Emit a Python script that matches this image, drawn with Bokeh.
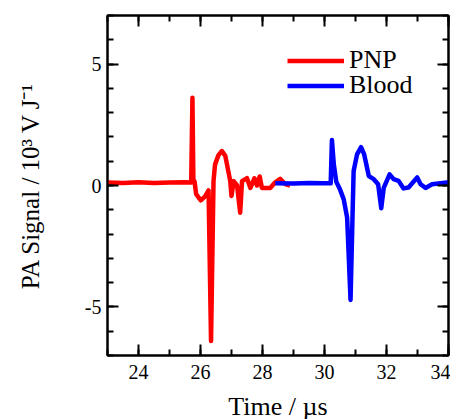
from bokeh.plotting import figure
from bokeh.models import (LinearAxis, SingleIntervalTicker, Range1d, Legend, LegendItem)
from bokeh.embed import file_html
from bokeh.resources import INLINE

# ---- data ----
pnp_time = [23.0, 23.5, 24.0, 24.5, 25.0, 25.5, 25.70, 25.74, 25.77, 25.81, 25.86, 26.01,
            26.15, 26.26, 26.34, 26.42, 26.47, 26.58, 26.69, 26.80, 26.96, 27.00, 27.07,
            27.18, 27.28, 27.34, 27.50, 27.61, 27.74, 27.82, 27.91, 27.98, 28.25, 28.41,
            28.57, 28.73, 28.89]
pnp_signal = [0.12, 0.10, 0.13, 0.10, 0.12, 0.13, 0.12, 3.61, 0.25, 0.15, -0.36, -0.61,
              -0.45, -0.20, -6.40, 0.18, 0.87, 1.25, 1.42, 1.22, 0.18, -0.43, 0.18,
              0.00, -1.12, 0.18, 0.30, -0.10, 0.30, 0.00, 0.37, -0.10, -0.10, 0.13,
              0.27, 0.06, 0.00]

blood_time = [28.41, 29.0, 29.5, 30.0, 30.20, 30.24, 30.30, 30.38, 30.49, 30.62, 30.73,
              30.84, 30.90, 30.94, 31.05, 31.18, 31.28, 31.43, 31.59, 31.73, 31.83,
              31.91, 32.10, 32.23, 32.39, 32.55, 32.71, 32.99, 33.10, 33.26, 33.47,
              33.74, 33.95, 34.0]
blood_signal = [0.09, 0.08, 0.10, 0.09, 0.09, 1.87, 0.87, 0.15, -0.13, -0.57, -1.32,
                -4.71, -1.47, 0.60, 1.28, 1.58, 1.28, 0.39, 0.26, 0.05, -0.94,
                -0.10, 0.46, 0.26, 0.19, -0.12, -0.08, 0.33, 0.05, -0.10, 0.05,
                0.09, 0.12, 0.12]

series_names = ["PNP", "Blood"]
series_colors = ["#ff0000", "#0000ff"]

x_range = (23, 34)
y_range = (-7, 7)
x_tick_labels = {24: "24", 26: "26", 28: "28", 30: "30", 32: "32", 34: "34"}
y_tick_labels = {-5: "-5", 0: "0", 5: "5"}

FONT = "Liberation Serif"

p = figure(output_backend="svg", toolbar_location=None,
           width=450, height=424,
           min_border_left=107, min_border_right=2, min_border_top=15, min_border_bottom=69,
           x_range=Range1d(*x_range), y_range=Range1d(*y_range),
           x_axis_label="Time / µs", y_axis_label="PA Signal / 10³ V J⁻¹")

p.grid.visible = False
p.outline_line_color = "black"
p.outline_line_width = 2
p.background_fill_color = "white"
p.border_fill_color = "white"

p.xaxis.ticker = SingleIntervalTicker(interval=2, num_minor_ticks=2)
p.yaxis.ticker = SingleIntervalTicker(interval=5, num_minor_ticks=5)
p.xaxis.major_label_overrides = x_tick_labels
p.yaxis.major_label_overrides = y_tick_labels


def style_axis(ax):
    ax.axis_line_color = "black"
    ax.axis_line_width = 2
    ax.major_tick_in = 11
    ax.major_tick_out = 0
    ax.minor_tick_in = 6
    ax.minor_tick_out = 0
    ax.major_tick_line_width = 2
    ax.minor_tick_line_width = 2
    ax.major_tick_line_color = "black"
    ax.minor_tick_line_color = "black"
    ax.major_label_text_font = FONT
    ax.major_label_text_color = "black"
    ax.major_label_text_font_size = "20px"
    ax.axis_label_text_font = FONT
    ax.axis_label_text_font_style = "normal"
    ax.axis_label_text_font_size = "26px"
    ax.axis_label_text_color = "black"


for ax in p.xaxis:
    style_axis(ax)
    ax.major_label_standoff = 9
    ax.axis_label_standoff = 10
for ax in p.yaxis:
    style_axis(ax)
    ax.axis_label_text_font_size = "25px"
    ax.major_label_standoff = 6
    ax.axis_label_standoff = 38

top = LinearAxis(ticker=SingleIntervalTicker(interval=2, num_minor_ticks=2))
style_axis(top)
top.major_label_text_alpha = 0
top.major_label_text_font_size = "1px"
top.major_label_standoff = 0
right = LinearAxis(ticker=SingleIntervalTicker(interval=5, num_minor_ticks=5))
style_axis(right)
right.major_label_text_alpha = 0
right.major_label_text_font_size = "1px"
right.major_label_standoff = 0
p.add_layout(top, "above")
p.add_layout(right, "right")

r1 = p.line(pnp_time, pnp_signal, line_color=series_colors[0], line_width=4.5,
            line_join="round")
r2 = p.line(blood_time, blood_signal, line_color=series_colors[1], line_width=4.5,
            line_join="round")


def make_legend(label, renderer, loc):
    return Legend(items=[LegendItem(label=label, renderers=[renderer])],
                  location=loc, orientation="vertical",
                  glyph_width=57, glyph_height=25, label_height=25, spacing=0,
                  padding=0, margin=0, label_standoff=5,
                  label_text_font=FONT, label_text_font_size="26px",
                  label_text_color="black",
                  border_line_color=None, background_fill_alpha=0)


p.add_layout(make_legend(series_names[0], r1, (180, 280)))
p.add_layout(make_legend(series_names[1], r2, (180, 255)))

open("out.html", "w").write(file_html(p, INLINE))
